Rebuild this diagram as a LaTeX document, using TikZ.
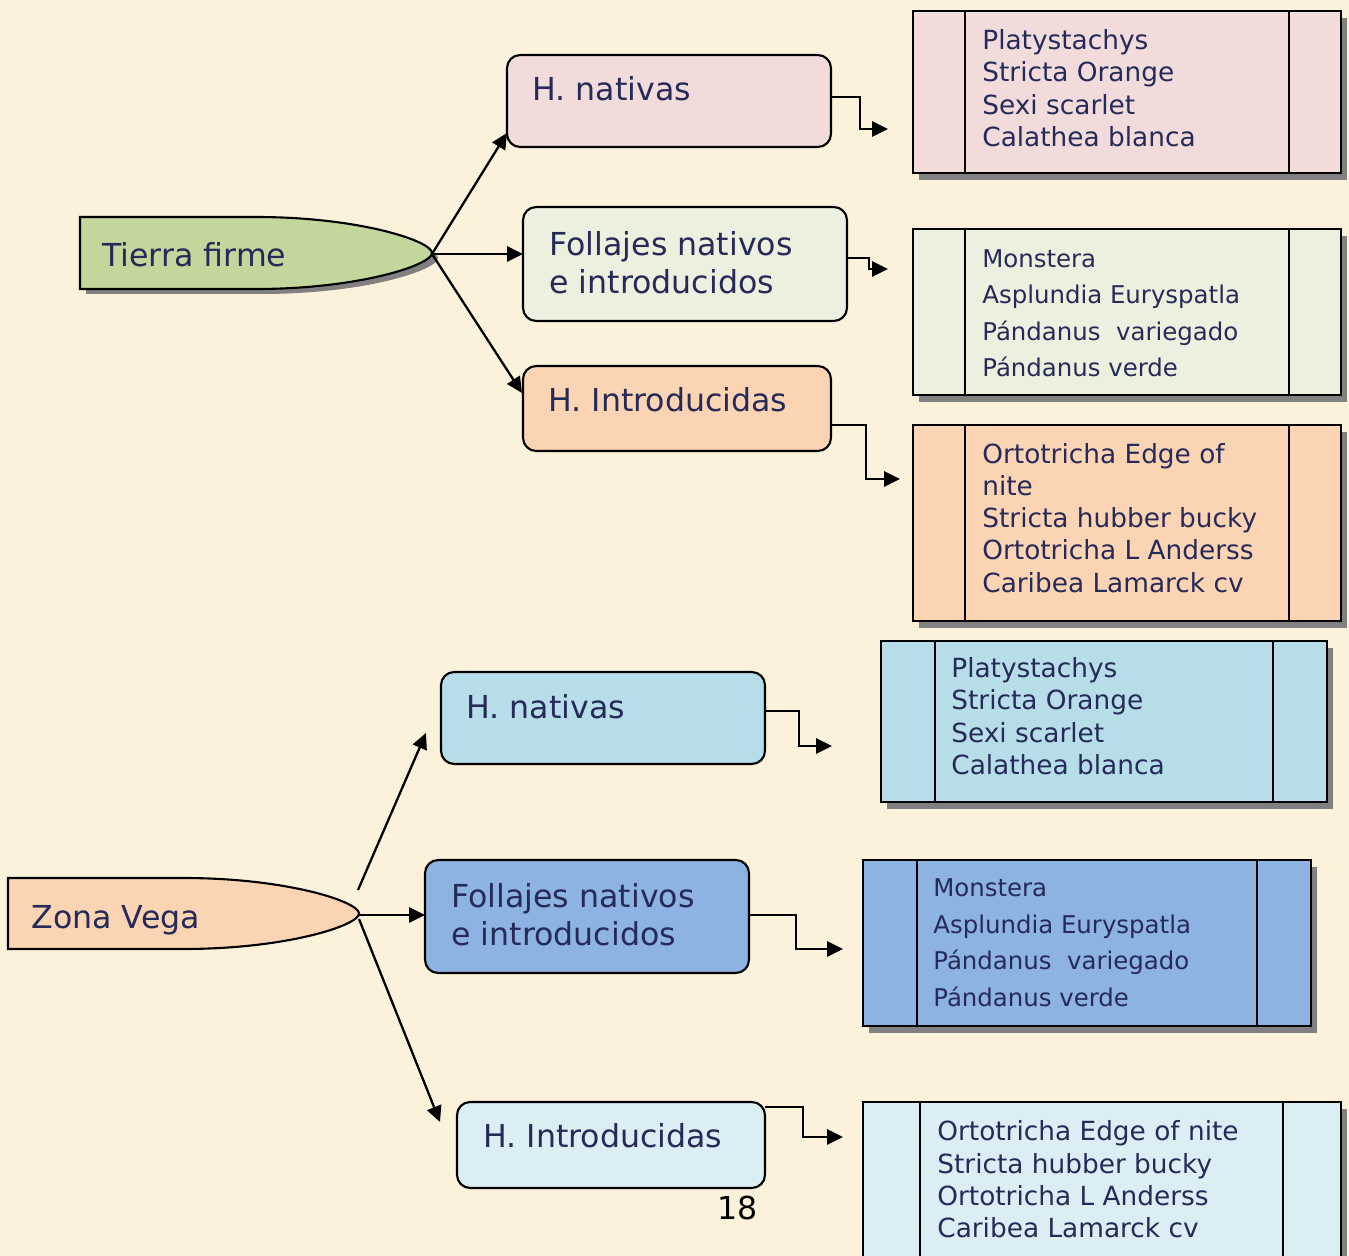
\documentclass[tikz,border=0pt]{standalone}
\usepackage{fontspec}
\setmainfont{DejaVu Sans}
\usetikzlibrary{arrows.meta,fit}
\definecolor{bg}{RGB}{252,241,218}
\definecolor{txt}{RGB}{38,42,88}
\definecolor{pinkf}{RGB}{242,220,219}
\definecolor{greenf}{RGB}{235,241,222}
\definecolor{peachf}{RGB}{251,212,180}
\definecolor{oliveg}{RGB}{195,214,155}
\definecolor{aquaf}{RGB}{183,221,232}
\definecolor{bluef}{RGB}{141,179,226}
\definecolor{paleaq}{RGB}{218,238,243}
\definecolor{shad}{RGB}{128,128,128}
\newcommand\catfont{\fontsize{18}{21.5}\selectfont}
\newcommand\lstfont{\fontsize{15}{18.3}\selectfont}
\newcommand\cmcfont{\fontsize{13.9}{20.8}\selectfont}
\newcommand\listbox[8]{% name, fill, x1,y1,x2,y2,d1,d2
  \fill[shad] (#3+6,#4+7) rectangle (#5+6,#6+7);
  \node[lbox, fill=#2, fit={(#3,#4) (#5,#6)}] (#1) {};
  \draw[lbline] (#7,#4) -- (#7,#6) (#8,#4) -- (#8,#6);
}
\begin{document}
\begin{tikzpicture}[x=0.02cm,y=-0.02cm,
  catbox/.style={draw=black,line width=1.2pt,rounded corners=7.5pt,inner sep=0pt},
  lbox/.style={draw=black,line width=1.5pt,inner sep=0pt},
  lbline/.style={draw=black,line width=1.5pt},
  cattext/.style={font=\catfont,text=txt,anchor=base west,inner sep=0pt,align=left},
  lsttext/.style={font=\lstfont,text=txt,anchor=base west,inner sep=0pt,align=left},
  cmctext/.style={font=\cmcfont,text=txt,anchor=base west,inner sep=0pt,align=left},
  conn/.style={draw=black,line width=1.3pt,-{Triangle[length=9pt,width=8.5pt]}},
  blob/.style={draw=black,line width=1.2pt},
]
\useasboundingbox (0,0) rectangle (1349,1256);
\clip (0,0) rectangle (1349,1256);
\fill[bg] (0,0) rectangle (1349,1256);

% ---------- Tierra firme ----------
\fill[shad] (86,222) -- (262,222) .. controls (365,222) and (438,246) .. (438,258)
  .. controls (438,270) and (365,294) .. (262,294) -- (86,294) -- cycle;
\filldraw[blob,fill=oliveg] (80,217) -- (256,217) .. controls (359,217) and (432,241) .. (432,253)
  .. controls (432,265) and (359,289) .. (256,289) -- (80,289) -- cycle;
\node[cattext] (tf) at (102,267) {Tierra firme};
\coordinate (tftip) at (432,254);

\node[catbox,fill=pinkf,fit={(507,55) (831,147)}] (hn1) {};
\node[cattext] (hn1t) at (532,101) {H. nativas};
\node[catbox,fill=greenf,fit={(523,207) (847,321)}] (fo1) {};
\node[cattext] (fo1t) at (549,293.5) {Follajes nativos\\e introducidos};
\node[catbox,fill=peachf,fit={(523,366) (831,451)}] (hi1) {};
\node[cattext] (hi1t) at (548,411.5) {H. Introducidas};

\coordinate (a1) at (507,133);
\coordinate (a2) at (523,254);
\coordinate (a3) at (522,393);
\draw[conn] (tftip) -- (a1);
\draw[conn] (tftip) -- (a2);
\draw[conn] (tftip) -- (a3);

% right list boxes (top)
\listbox{b1}{pinkf}{913}{11}{1341}{173}{965}{1289}
\node[lsttext] (b1t) at (982,146.2) {Platystachys\\Stricta Orange\\Sexi scarlet\\Calathea blanca};
\listbox{b2}{greenf}{913}{229}{1341}{395}{965}{1289}
\node[cmctext] (b2t) at (982,376.8) {Monstera\\Asplundia Euryspatla\\Pándanus\ \ variegado\\Pándanus verde};
\listbox{b3}{peachf}{913}{425}{1341}{621}{965}{1289}
\node[lsttext] (b3t) at (982,592.1) {Ortotricha Edge of\\nite\\Stricta hubber bucky\\Ortotricha L Anderss\\Caribea Lamarck cv};

\coordinate (s1) at (831,97);  \coordinate (t1) at (888,129);
\coordinate (s2) at (847,258); \coordinate (t2) at (888,269);
\coordinate (s3) at (831,425); \coordinate (t3) at (900,479);
\draw[conn] (s1) -- ++(29,0) |- (t1);
\draw[conn] (s2) -- ++(22,0) |- (t2);
\draw[conn] (s3) -- ++(35,0) |- (t3);

% ---------- Zona Vega ----------
\filldraw[blob,fill=peachf] (8,878) -- (183.5,878) .. controls (286,878) and (359,901.5) .. (359,913.5)
  .. controls (359,925.5) and (286,949) .. (183.5,949) -- (8,949) -- cycle;
\node[cattext] (zv) at (31,928.3) {Zona Vega};
\coordinate (zvup) at (358,890);
\coordinate (zvtip) at (359,915);
\coordinate (zvlow) at (359,919);

\node[catbox,fill=aquaf,fit={(441,672) (765,764)}] (hn2) {};
\node[cattext] (hn2t) at (466,718.3) {H. nativas};
\node[catbox,fill=bluef,fit={(425,860) (749,973)}] (fo2) {};
\node[cattext] (fo2t) at (451,945.5) {Follajes nativos\\e introducidos};
\node[catbox,fill=paleaq,fit={(457,1102) (765,1188)}] (hi2) {};
\node[cattext] (hi2t) at (483,1147.7) {H. Introducidas};

\coordinate (a4) at (426,733);
\coordinate (a5) at (425,915);
\coordinate (a6) at (440,1122);
\draw[conn] (zvup) -- (a4);
\draw[conn] (zvtip) -- (a5);
\draw[conn] (zvlow) -- (a6);

\listbox{b4}{aquaf}{881}{641}{1327}{802}{935}{1273}
\node[lsttext] (b4t) at (951,774.2) {Platystachys\\Stricta Orange\\Sexi scarlet\\Calathea blanca};
\listbox{b5}{bluef}{863}{860}{1311}{1026}{917}{1257}
\node[cmctext] (b5t) at (933,1006.1) {Monstera\\Asplundia Euryspatla\\Pándanus\ \ variegado\\Pándanus verde};
\listbox{b6}{paleaq}{863}{1102}{1341}{1300}{920}{1283}
\node[lsttext] (b6t) at (937,1237.4) {Ortotricha Edge of nite\\Stricta hubber bucky\\Ortotricha L Anderss\\Caribea Lamarck cv};

\coordinate (s4) at (765,711);  \coordinate (t4) at (832,746);
\coordinate (s5) at (749,915);  \coordinate (t5) at (843,949);
\coordinate (s6) at (765,1107); \coordinate (t6) at (843,1137);
\draw[conn] (s4) -- ++(34,0) |- (t4);
\draw[conn] (s5) -- ++(47,0) |- (t5);
\draw[conn] (s6) -- ++(38,0) |- (t6);

\node[font=\catfont,text=black,anchor=base west,inner sep=0pt] (pg) at (717,1219.5) {18};
\end{tikzpicture}
\end{document}
